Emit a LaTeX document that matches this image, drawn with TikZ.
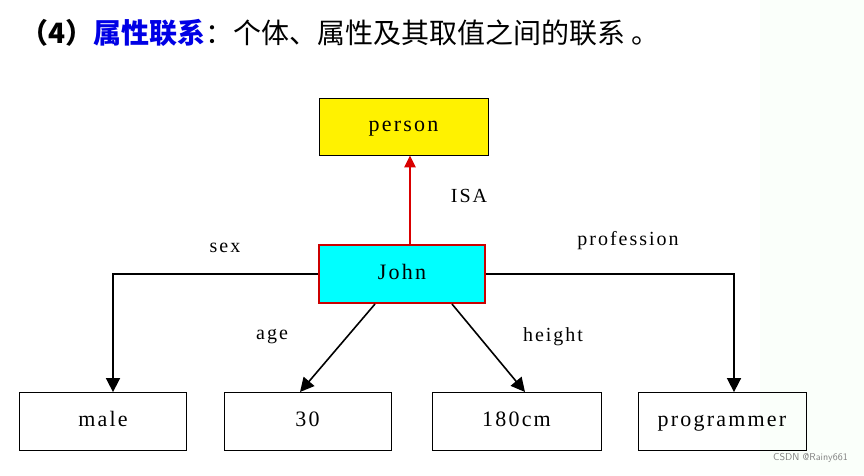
\documentclass[tikz,border=0pt]{standalone}
\usepackage{fontspec}
\setmainfont{Liberation Serif}
\newfontfamily\cjk{Noto Sans CJK SC}
\newfontfamily\lbl[LetterSpace=10]{Liberation Serif}
\usetikzlibrary{arrows.meta}
\definecolor{cy}{RGB}{0,255,255}
\begin{document}
\begin{tikzpicture}[x=1pt,y=-1pt,
  box/.style={draw=black,line width=0.8pt,minimum width=167pt,minimum height=58pt,inner sep=0pt,text height=14pt,text depth=4pt,font=\lbl\fontsize{22}{22}\selectfont},
  lab/.style={font=\lbl\fontsize{20}{20}\selectfont,inner sep=0pt},
  arr/.style={line width=1.6pt,-{Triangle[length=14pt,width=14pt]}}]
\useasboundingbox (0,0) rectangle (864,475);
\fill[green!2] (760,0) rectangle (864,475);
\node[anchor=west,inner sep=0pt] (title) at (20,33) {\fontsize{28}{28}\selectfont{\cjk\bfseries （4）}{\cjk\bfseries\color{blue!90!black}属性联系}{\cjk ：个体、属性及其取值之间的联系 。}};
\node[box,fill=yellow,minimum width=169pt,minimum height=57pt] (person) at (403.5,126.5) {person};
\node[box,fill=cy,draw=red!80!black,line width=2pt,minimum width=166pt,minimum height=58pt] (john) at (402,274) {John};
\node[box] (male) at (103,421.5) {male};
\node[box] (v30) at (307.5,421.5) {30};
\node[box,minimum width=169pt] (h) at (516.5,421.5) {180cm};
\node[box,minimum width=168pt] (prog) at (722,421.5) {programmer};
\draw[line width=2.4pt,red!85!black,-{Triangle[length=12pt,width=11pt]}] (john.north -| 410,0) -- (person.south -| 410,0);
\draw[arr] (john.west) -| (male.north -| 113,0);
\draw[arr] (john.east) -| (prog.north -| 734,0);
\draw[arr] (375,304) -- (300,392);
\draw[arr] (452,304) -- (525,392);
\node[lab] (sex) at (225,248) {sex};
\node[lab] (isa) at (469,196) {ISA};
\node[lab] (prof) at (628,241) {profession};
\node[lab] (age) at (272,337) {age};
\node[lab] (ht) at (553,337) {height};
\node[anchor=east,inner sep=0pt,text=gray,font=\sffamily\fontsize{10}{10}\selectfont] (wm) at (848,458) {CSDN @Rainy661};
\end{tikzpicture}
\end{document}
